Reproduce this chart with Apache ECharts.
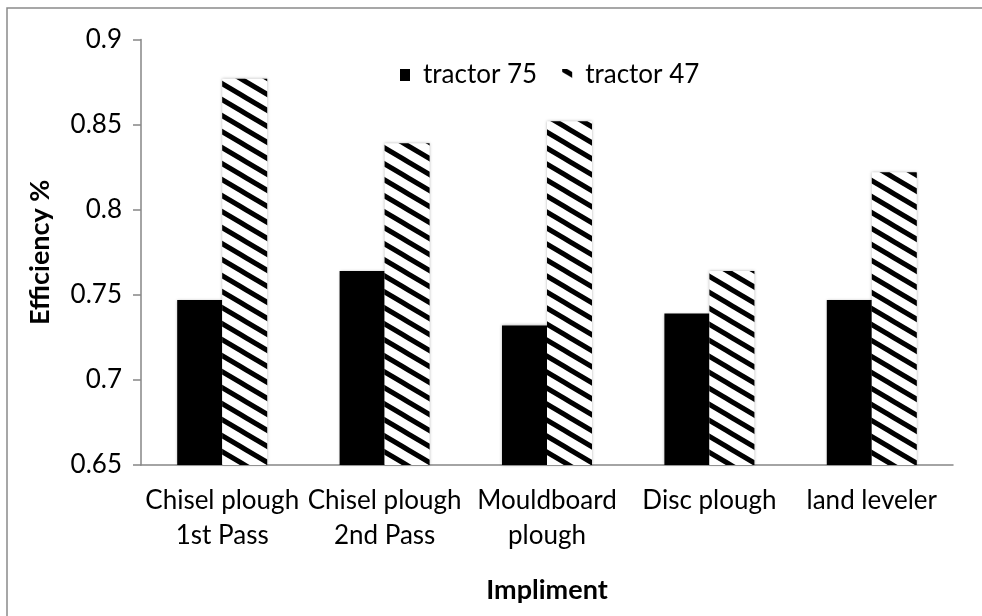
<!DOCTYPE html>
<html>
<head>
<meta charset="utf-8">
<script src="https://cdn.jsdelivr.net/npm/echarts@6/dist/echarts.min.js"></script>
<style>
  html, body { margin: 0; padding: 0; background: #fff; }
  #chart { width: 982px; height: 616px; }
</style>
</head>
<body>
<div id="chart"></div>
<script>
// data
const categories = ['Chisel plough\n1st Pass', 'Chisel plough\n2nd Pass', 'Mouldboard\nplough', 'Disc plough', 'land leveler']
const tractor75 = [0.747, 0.764, 0.732, 0.739, 0.747]
const tractor47 = [0.877, 0.839, 0.852, 0.764, 0.822]
const yTicks = { min: 0.65, max: 0.9, step: 0.05 }

// diagonal hatch tile (black stripes going down to the right)
function hatch() {
    const w = 27, h = 16
    const c = document.createElement('canvas')
    c.width = w
    c.height = h
    const ctx = c.getContext('2d')
    ctx.fillStyle = '#fff'
    ctx.fillRect(0, 0, w, h)
    ctx.strokeStyle = '#000'
    ctx.lineWidth = 5
    for (let k = -1; k <= 1; k++) {
        ctx.beginPath()
        ctx.moveTo(-w, -h + k * h)
        ctx.lineTo(2 * w, 2 * h + k * h)
        ctx.stroke()
    }
    return c
}

const font = 'Lato'
const chart = echarts.init(document.getElementById('chart'))
chart.setOption({
    backgroundColor: '#fff',
    animation: false,
    textStyle: { fontFamily: font },
    graphic: [{
        type: 'rect',
        shape: { x: 7, y: 8, width: 1200, height: 1000 },
        style: { fill: 'none', stroke: '#8a8a8a', lineWidth: 1.5 },
        silent: true
    }],
    legend: {
        left: 395,
        top: 57,
        itemWidth: 10,
        itemHeight: 12,
        itemGap: 25,
        icon: 'rect',
        textStyle: { fontFamily: font, fontSize: 26, color: '#000', lineHeight: 26, padding: [0, 0, 0, 8] },
        data: ['tractor 75', 'tractor 47']
    },
    grid: { left: 141, right: 29, top: 39.5, bottom: 151 },
    xAxis: {
        type: 'category',
        data: categories,
        name: 'Impliment',
        nameLocation: 'middle',
        nameGap: 112,
        nameTextStyle: { fontFamily: font, fontSize: 27, fontWeight: 'bold', color: '#000' },
        axisLine: { lineStyle: { color: '#868686', width: 1.5 } },
        axisTick: { length: 9, lineStyle: { color: '#868686', width: 1.5 } },
        axisLabel: { interval: 0, margin: 18, fontFamily: font, fontSize: 26, lineHeight: 35, color: '#000' }
    },
    yAxis: {
        type: 'value',
        min: yTicks.min,
        max: yTicks.max,
        interval: yTicks.step,
        name: 'Efficiency %',
        nameLocation: 'middle',
        nameGap: 87,
        nameTextStyle: { fontFamily: font, fontSize: 27, fontWeight: 'bold', color: '#000' },
        splitLine: { show: false },
        axisLine: { show: true, lineStyle: { color: '#868686', width: 1.5 } },
        axisTick: { show: true, inside: false, length: 8, lineStyle: { color: '#868686', width: 1.5 } },
        axisLabel: {
            margin: 19,
            fontFamily: font,
            fontSize: 26,
            color: '#000',
            formatter: v => String(+v.toFixed(2))
        }
    },
    series: [
        {
            name: 'tractor 75',
            type: 'bar',
            data: tractor75,
            barWidth: 45,
            barGap: '0%',
            itemStyle: { color: '#000', shadowBlur: 3, shadowColor: 'rgba(0,0,0,0.3)' }
        },
        {
            name: 'tractor 47',
            type: 'bar',
            data: tractor47,
            barWidth: 45,
            itemStyle: { color: { image: hatch(), repeat: 'repeat' }, shadowBlur: 3, shadowColor: 'rgba(0,0,0,0.3)' }
        }
    ]
})
</script>
</body>
</html>
